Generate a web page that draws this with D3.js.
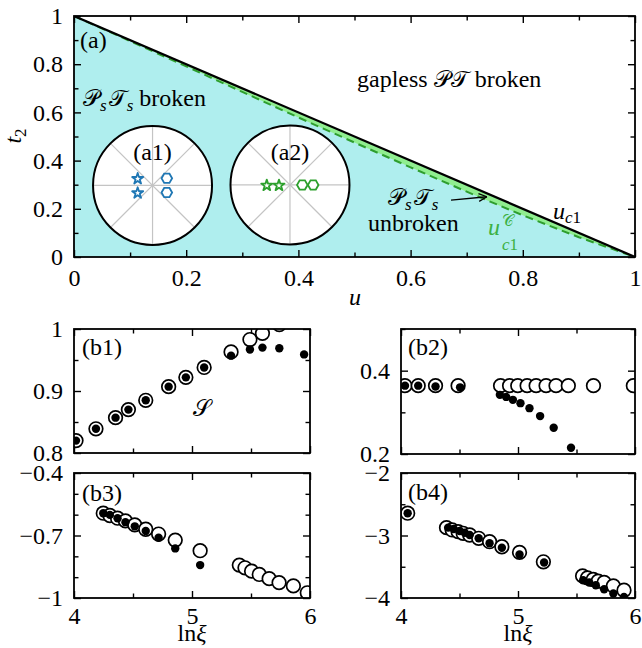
<!DOCTYPE html>
<html><head><meta charset="utf-8">
<script src="https://cdn.jsdelivr.net/npm/d3@7"></script>
<style>body{margin:0;background:#fff} svg{display:block} text{font-family:'Liberation Serif','Times New Roman',serif}</style>
</head><body>
<script>
// ---------------- data ----------------
// panel (a)
const aMajor = [0, 0.2, 0.4, 0.6, 0.8, 1];
const aMajorLabels = ["0", "0.2", "0.4", "0.6", "0.8", "1"];
const aMinor = [0.1, 0.3, 0.5, 0.7, 0.9];
const uc1U = [0, 1];
const uc1T2 = [1, 0];
const uc1CU = [0, 0.1, 0.2, 0.3, 0.4, 0.5, 0.6, 0.7, 0.8, 0.9, 1];
const uc1CT2 = [1, 0.896, 0.791, 0.685, 0.579, 0.475, 0.372, 0.271, 0.173, 0.082, 0];
// insets: centers (u, t2) and eigenvalue positions (relative to unit circle)
const insetU = [0.14, 0.385];
const insetT2 = [0.297, 0.299];
const insetNames = ["(a1)", "(a2)"];
const a1StarRe = [-0.25, -0.25], a1StarIm = [0.12, -0.12];
const a1HexRe = [0.24, 0.24], a1HexIm = [0.12, -0.12];
const a2StarRe = [-0.39, -0.185], a2StarIm = [0, 0];
const a2HexRe = [0.207, 0.39], a2HexIm = [0, 0];

// panels (b)
const bXMajor = [4, 5, 6];
const bXMinor = [4.5, 5.5];
const b1X = [4.017, 4.186, 4.352, 4.461, 4.608, 4.802, 4.948, 5.103, 5.331, 5.491, 5.597, 5.74, 5.95];
const b1Open = [0.820, 0.839, 0.857, 0.870, 0.885, 0.907, 0.922, 0.938, 0.963, 0.983, 0.993, 1.007, null];
const b1Filled = [0.820, 0.839, 0.857, 0.870, 0.885, 0.907, 0.922, 0.938, 0.957, 0.967, 0.970, 0.969, 0.959];

const b2OpenX = [4.034, 4.147, 4.295, 4.488, 4.851, 4.928, 4.998, 5.078, 5.155, 5.240, 5.325, 5.430, 5.645, 5.986];
const b2Open = [0.364, 0.364, 0.364, 0.364, 0.364, 0.364, 0.364, 0.364, 0.364, 0.364, 0.364, 0.364, 0.364, 0.364];
const b2FilledX = [4.034, 4.147, 4.295, 4.505, 4.845, 4.899, 4.956, 5.021, 5.098, 5.189, 5.305, 5.453];
const b2Filled = [0.364, 0.364, 0.362, 0.360, 0.342, 0.337, 0.330, 0.322, 0.310, 0.291, 0.263, 0.215];

const b3X = [4.248, 4.304, 4.369, 4.436, 4.515, 4.608, 4.717, 4.858, 5.069, 5.401, 5.449, 5.505, 5.570, 5.654, 5.738, 5.859, 5.977];
const b3Open = [-0.593, -0.604, -0.617, -0.630, -0.649, -0.670, -0.693, -0.722, -0.773, -0.842, -0.855, -0.871, -0.887, -0.907, -0.926, -0.942, -0.975];
const b3Filled = [-0.593, -0.601, -0.617, -0.636, -0.656, -0.678, -0.711, -0.762, -0.842];

const b4OpenX = [4.057, 4.389, 4.437, 4.488, 4.531, 4.587, 4.664, 4.757, 4.862, 5.013, 5.217, 5.552, 5.594, 5.643, 5.685, 5.736, 5.815, 5.906];
const b4Open = [-2.643, -2.874, -2.911, -2.938, -2.965, -2.992, -3.045, -3.099, -3.180, -3.270, -3.421, -3.646, -3.678, -3.704, -3.731, -3.752, -3.807, -3.876];
const b4FilledX = [4.057, 4.403, 4.451, 4.502, 4.545, 4.587, 4.664, 4.757, 4.862, 5.013, 5.223, 5.557, 5.609, 5.665, 5.736, 5.815, 5.906];
const b4Filled = [-2.643, -2.874, -2.896, -2.928, -2.955, -2.992, -3.045, -3.125, -3.196, -3.303, -3.431, -3.715, -3.752, -3.796, -3.860, -3.929, -3.984];

const b1YMajor = [0.8, 0.9, 1], b1YLabels = ["0.8", "0.9", "1"], b1YMinor = [0.85, 0.95];
const b2YMajor = [0.2, 0.4], b2YLabels = ["0.2", "0.4"], b2YMinor = [0.3, 0.5];
const b3YMajor = [-1, -0.7, -0.4], b3YLabels = ["\u22121", "\u22120.7", "\u22120.4"], b3YMinor = [-0.9, -0.8, -0.6, -0.5];
const b4YMajor = [-4, -3, -2], b4YLabels = ["\u22124", "\u22123", "\u22122"], b4YMinor = [-3.5, -2.5];

// ---------------- drawing ----------------
const FONT = "'Liberation Serif', 'Times New Roman', serif";
const MATH = "'DejaVu Serif', 'DejaVu Sans', 'Noto Sans', serif";
const FS = 24;
const svg = d3.select("body").append("svg").attr("width", 642).attr("height", 648);

function axes(g, x, y, c) {
  const [x0, x1] = x.range(), [y0, y1] = y.range(); // y0 bottom, y1 top
  const fmt = labels => (labels ? (d, i) => labels[i] : () => "");
  const add = (axis, tx, ty) => {
    const a = g.append("g").attr("transform", `translate(${tx},${ty})`).call(axis);
    a.attr("font-family", null);
    a.select(".domain").remove();
    a.selectAll("line").attr("stroke", "#000").attr("stroke-width", 1.4);
    a.selectAll("text").style("font-family", FONT).attr("font-size", FS).attr("fill", "#000");
    return a;
  };
  add(d3.axisBottom(x).tickValues(c.xMajor).tickSize(-7).tickPadding(c.xPad || 10).tickFormat(fmt(c.xLabels)), 0, y0);
  add(d3.axisBottom(x).tickValues(c.xMinor).tickSize(-4.5).tickFormat(() => ""), 0, y0);
  add(d3.axisTop(x).tickValues(c.xMajor).tickSize(-7).tickFormat(() => ""), 0, y1);
  add(d3.axisTop(x).tickValues(c.xMinor).tickSize(-4.5).tickFormat(() => ""), 0, y1);
  add(d3.axisLeft(y).tickValues(c.yMajor).tickSize(-7).tickPadding(c.yPad || 11).tickFormat(fmt(c.yLabels)), x0, 0);
  add(d3.axisLeft(y).tickValues(c.yMinor).tickSize(-4.5).tickFormat(() => ""), x0, 0);
  add(d3.axisRight(y).tickValues(c.yMajor).tickSize(-7).tickFormat(() => ""), x1, 0);
  add(d3.axisRight(y).tickValues(c.yMinor).tickSize(-4.5).tickFormat(() => ""), x1, 0);
  g.append("rect").attr("x", x0).attr("y", y1).attr("width", x1 - x0).attr("height", y0 - y1)
    .attr("fill", "none").attr("stroke", "#000").attr("stroke-width", 1.8);
}

function rich(g, x, y, parts, color, anchor) {
  const t = g.append("text").attr("x", x).attr("y", y).attr("fill", color || "#000")
    .style("font-family", FONT).attr("font-size", FS).attr("text-anchor", anchor || "start");
  parts.forEach(p => {
    t.append("tspan").text(p.t)
      .attr("font-style", p.i ? "italic" : "normal")
      .attr("font-size", p.s || FS)
      .style("font-family", p.m ? MATH : FONT)
      .attr("dy", p.dy || 0)
      .attr("dx", p.dx || 0);
  });
  return t;
}

let clipId = 0;
function clip(g, x, y) {
  const id = "clip" + (clipId++);
  g.append("clipPath").attr("id", id).append("rect")
    .attr("x", x.range()[0]).attr("y", y.range()[1])
    .attr("width", x.range()[1] - x.range()[0]).attr("height", y.range()[0] - y.range()[1]);
  return g.append("g").attr("clip-path", `url(#${id})`);
}

// ---------- panel (a) ----------
{
  const g = svg.append("g");
  const x = d3.scaleLinear([0, 1], [74, 635]);
  const y = d3.scaleLinear([0, 1], [257, 16]);
  const body = clip(g, x, y);
  const dash = uc1CU.map((u, i) => [u, uc1CT2[i]]);
  const solid = uc1U.map((u, i) => [u, uc1T2[i]]);
  const area = d3.area().x(d => x(d[0])).y1(d => y(d[1])).y0(y(0));
  body.append("path").datum(solid).attr("d", area).attr("fill", "#90ee90");
  body.append("path").datum(dash).attr("d", area).attr("fill", "#afeeee");
  const line = d3.line().x(d => x(d[0])).y(d => y(d[1]));
  body.append("path").datum(dash).attr("d", line).attr("fill", "none")
    .attr("stroke", "#2e9e2e").attr("stroke-width", 2).attr("stroke-dasharray", "8,5");
  body.append("path").datum(solid).attr("d", line).attr("fill", "none")
    .attr("stroke", "#000").attr("stroke-width", 2.2);

  // insets
  const R = 59.5;
  const starSym = d3.symbol().type(d3.symbolStar).size(38);
  const hexPath = (cx, cy, r) => {
    const p = d3.path();
    for (let k = 0; k < 6; k++) {
      const a = k * Math.PI / 3;
      const px = cx + r * Math.cos(a), py = cy + r * Math.sin(a);
      k === 0 ? p.moveTo(px, py) : p.lineTo(px, py);
    }
    p.closePath();
    return p.toString();
  };
  const sets = [
    { sr: a1StarRe, si: a1StarIm, hr: a1HexRe, hi: a1HexIm, col: "#1f77b4" },
    { sr: a2StarRe, si: a2StarIm, hr: a2HexRe, hi: a2HexIm, col: "#2ca02c" }
  ];
  insetU.forEach((u, k) => {
    const cx = x(u), cy = y(insetT2[k]);
    const ig = body.append("g");
    ig.append("circle").attr("cx", cx).attr("cy", cy).attr("r", R).attr("fill", "#fff");
    for (let j = 0; j < 4; j++) {
      const a = j * Math.PI / 4;
      ig.append("line").attr("x1", cx - R * Math.cos(a)).attr("y1", cy - R * Math.sin(a))
        .attr("x2", cx + R * Math.cos(a)).attr("y2", cy + R * Math.sin(a))
        .attr("stroke", "#c4c4c4").attr("stroke-width", 1.2);
    }
    ig.append("circle").attr("cx", cx).attr("cy", cy).attr("r", R).attr("fill", "none")
      .attr("stroke", "#000").attr("stroke-width", 2);
    const ix = d3.scaleLinear([-1, 1], [cx - R, cx + R]);
    const iy = d3.scaleLinear([-1, 1], [cy + R, cy - R]);
    const s = sets[k];
    s.sr.forEach((re, i) => {
      ig.append("path").attr("d", starSym).attr("transform", `translate(${ix(re)},${iy(s.si[i]) + 0.5})`)
        .attr("fill", "#fff").attr("stroke", s.col).attr("stroke-width", 1.8).attr("stroke-linejoin", "round");
    });
    s.hr.forEach((re, i) => {
      ig.append("path").attr("d", hexPath(ix(re), iy(s.hi[i]), 5.3))
        .attr("fill", "#fff").attr("stroke", s.col).attr("stroke-width", 1.8);
    });
    rich(ig, cx, cy - 25, [{ t: insetNames[k] }], "#000", "middle");
  });

  axes(g, x, y, { xMajor: aMajor, xLabels: aMajorLabels, xMinor: aMinor, yMajor: aMajor, yLabels: aMajorLabels, yMinor: aMinor, xPad: 12 });

  // labels
  rich(g, 80, 48, [{ t: "(a)" }]);
  rich(g, 83, 106, [{ t: "\u{1D4AB}", m: 1, s: 23 }, { t: "s", i: 1, s: 17, dy: 5 }, { t: "\u{1D4AF}", m: 1, s: 23, dy: -5, dx: 2 }, { t: "s", i: 1, s: 17, dy: 5 }, { t: "  broken", dy: -5 }]);
  rich(g, 357, 87, [{ t: "gapless " }, { t: "\u{1D4AB}\u{1D4AF}", m: 1, s: 23 }, { t: " broken" }]);
  rich(g, 388, 205, [{ t: "\u{1D4AB}", m: 1, s: 23 }, { t: "s", i: 1, s: 17, dy: 5 }, { t: "\u{1D4AF}", m: 1, s: 23, dy: -5, dx: 2 }, { t: "s", i: 1, s: 17, dy: 5 }]);
  rich(g, 368, 231, [{ t: "unbroken" }]);
  // arrow
  const ax0 = x(0.672), ay0 = y(0.236), ax1 = x(0.736), ay1 = y(0.25);
  const ang = Math.atan2(ay1 - ay0, ax1 - ax0);
  g.append("line").attr("x1", ax0).attr("y1", ay0).attr("x2", ax1).attr("y2", ay1).attr("stroke", "#000").attr("stroke-width", 1.3);
  [0.45, -0.45].forEach(da => {
    g.append("line").attr("x1", ax1).attr("y1", ay1)
      .attr("x2", ax1 - 9 * Math.cos(ang + da)).attr("y2", ay1 - 9 * Math.sin(ang + da))
      .attr("stroke", "#000").attr("stroke-width", 1.3);
  });
  rich(g, 553, 219, [{ t: "u", i: 1 }, { t: "c", i: 1, s: 17, dy: 4 }, { t: "1", s: 17 }]);
  const gc = "#3cb043";
  rich(g, 488, 235, [{ t: "u", i: 1 }], gc);
  rich(g, 502, 226, [{ t: "\u{1D49E}", m: 1, s: 16 }], gc);
  rich(g, 502, 250, [{ t: "c", i: 1, s: 17 }, { t: "1", s: 17 }], gc);
  // axis titles
  rich(g, 0, 0, [{ t: "t", i: 1 }, { t: "2", s: 17, dy: 5 }], "#000", "middle")
    .attr("transform", "translate(21,136) rotate(-90)");
  rich(g, 355, 305, [{ t: "u", i: 1 }], "#000", "middle");
}

// ---------- panels (b) ----------
function bPanel(cfg) {
  const g = svg.append("g");
  const x = d3.scaleLinear([4, 6], cfg.xr);
  const y = d3.scaleLinear(cfg.yd, cfg.yr);
  const body = clip(g, x, y);
  const open = cfg.ox.map((v, i) => [v, cfg.oy[i]]).filter(d => d[1] != null);
  const fill = cfg.fx.map((v, i) => [v, cfg.fy[i]]).filter(d => d[1] != null);
  body.selectAll(".o").data(open).join("circle").attr("cx", d => x(d[0])).attr("cy", d => y(d[1]))
    .attr("r", 6.8).attr("fill", "#fff").attr("stroke", "#000").attr("stroke-width", 1.7);
  body.selectAll(".f").data(fill).join("circle").attr("cx", d => x(d[0])).attr("cy", d => y(d[1]))
    .attr("r", 4.2).attr("fill", "#000");
  axes(g, x, y, { xMajor: bXMajor, xLabels: cfg.xl ? ["4", "5", "6"] : null, xMinor: bXMinor,
    yMajor: cfg.ym, yLabels: cfg.yl, yMinor: cfg.yn, xPad: 9 });
  rich(g, cfg.lx, cfg.ly, [{ t: cfg.name }]);
  if (cfg.xl) rich(g, (cfg.xr[0] + cfg.xr[1]) / 2, 641, [{ t: "ln" }, { t: "\u03BE", i: 1 }], "#000", "middle");
  return g;
}
const gb1 = bPanel({ xr: [74, 310], yd: [0.8, 1], yr: [453, 329], ox: b1X, oy: b1Open, fx: b1X, fy: b1Filled,
  ym: b1YMajor, yl: b1YLabels, yn: b1YMinor, name: "(b1)", lx: 82, ly: 355 });
rich(gb1, 193, 416, [{ t: "\u{1D4AE}", m: 1, s: 23 }]);
bPanel({ xr: [401, 635], yd: [0.2, 0.5], yr: [454, 329], ox: b2OpenX, oy: b2Open, fx: b2FilledX, fy: b2Filled,
  ym: b2YMajor, yl: b2YLabels, yn: b2YMinor, name: "(b2)", lx: 408, ly: 355 });
bPanel({ xr: [74, 310], yd: [-1, -0.4], yr: [598, 473], ox: b3X, oy: b3Open, fx: b3X, fy: b3Filled,
  ym: b3YMajor, yl: b3YLabels, yn: b3YMinor, name: "(b3)", lx: 82, ly: 501, xl: 1 });
bPanel({ xr: [401, 635], yd: [-4, -2], yr: [598, 473], ox: b4OpenX, oy: b4Open, fx: b4FilledX, fy: b4Filled,
  ym: b4YMajor, yl: b4YLabels, yn: b4YMinor, name: "(b4)", lx: 408, ly: 500, xl: 1 });
</script>
</body></html>
